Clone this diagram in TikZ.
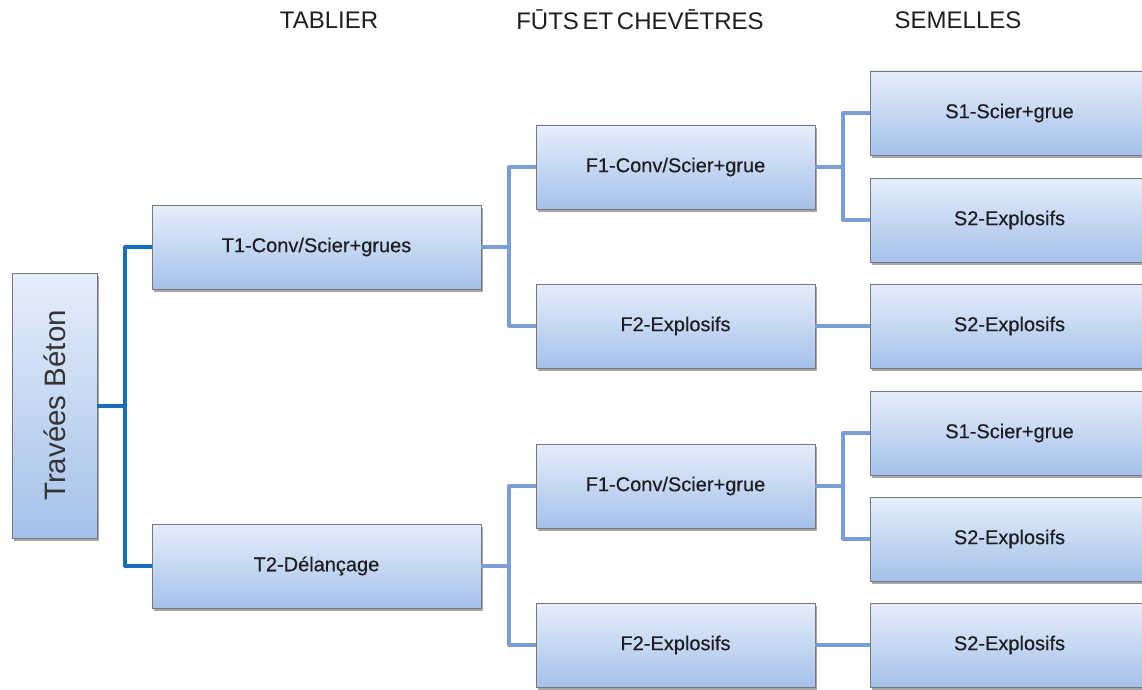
\documentclass[tikz,border=0pt]{standalone}
\usepackage{fontspec}
\setmainfont{Liberation Sans}
\newfontfamily\headfont[WordSpace=0.55]{Liberation Sans}
\newfontfamily\boxfont[FakeBold=0.4]{Liberation Sans}
\usetikzlibrary{shadows}
\definecolor{boxtop}{RGB}{230,238,250}
\definecolor{boxbot}{RGB}{165,193,234}
\definecolor{boxline}{RGB}{118,120,128}
\definecolor{linkdark}{RGB}{22,110,190}
\definecolor{linklight}{RGB}{122,158,214}
\definecolor{inkdark}{RGB}{30,30,34}
\begin{document}
\begin{tikzpicture}[x=1pt,y=-1pt,
  box/.style={draw=boxline, line width=0.8pt, top color=boxtop, bottom color=boxbot,
    minimum height=84pt, inner sep=0pt, text=inkdark,
    font=\boxfont\fontsize{20}{22}\selectfont,
    drop shadow={shadow xshift=2pt, shadow yshift=-2.5pt, opacity=0.35, fill=black}},
  tbox/.style={box, minimum width=329pt},
  fbox/.style={box, minimum width=279pt},
  sbox/.style={box, minimum width=279pt},
  heading/.style={font=\headfont\fontsize{24}{26}\selectfont, text=inkdark},
  darklink/.style={draw=linkdark, line width=4pt, line join=round},
  lightlink/.style={draw=linklight, line width=4pt, line join=round}]
\useasboundingbox (0,0) rectangle (1142,690);
\clip (0,0) rectangle (1142,690);

% column headings
\node[heading] (hT) at (329,20) {TABLIER};
\node[heading] (hF) at (640,20) {FŪTS ET CHEVĒTRES};
\node[heading] (hS) at (958,20) {SEMELLES};

% root
\node[box, minimum width=85pt, minimum height=265pt] (root) at (54.5,405.5) {};
\node[rotate=90, font=\fontsize{29.5}{32}\selectfont, text=inkdark!90] (rootlabel) at (root.center) {Travées Béton};

% deck
\node[tbox] (t1) at (316.5,247) {T1-Conv/Scier+grues};
\node[tbox] (t2) at (316.5,566) {T2-Délançage};

% shafts and caps
\node[fbox] (f1a) at (675.5,167) {F1-Conv/Scier+grue};
\node[fbox] (f2a) at (675.5,326) {F2-Explosifs};
\node[fbox] (f1b) at (675.5,486) {F1-Conv/Scier+grue};
\node[fbox] (f2b) at (675.5,645) {F2-Explosifs};

% footings
\node[sbox] (s1a) at (1009.5,113) {S1-Scier+grue};
\node[sbox] (s2a) at (1009.5,220) {S2-Explosifs};
\node[sbox] (s3a) at (1009.5,326) {S2-Explosifs};
\node[sbox] (s1b) at (1009.5,433) {S1-Scier+grue};
\node[sbox] (s2b) at (1009.5,539) {S2-Explosifs};
\node[sbox] (s3b) at (1009.5,645) {S2-Explosifs};

% connectors
\draw[darklink] (root.east) -- ++(28,0) |- (t1.west);
\draw[darklink] (root.east) -- ++(28,0) |- (t2.west);

\draw[lightlink] (t1.east) -- ++(28,0) |- (f1a.west);
\draw[lightlink] (t1.east) -- ++(28,0) |- (f2a.west);
\draw[lightlink] (t2.east) -- ++(28,0) |- (f1b.west);
\draw[lightlink] (t2.east) -- ++(28,0) |- (f2b.west);

\draw[lightlink] (f1a.east) -- ++(28,0) |- (s1a.west);
\draw[lightlink] (f1a.east) -- ++(28,0) |- (s2a.west);
\draw[lightlink] (f2a.east) -- (s3a.west);
\draw[lightlink] (f1b.east) -- ++(28,0) |- (s1b.west);
\draw[lightlink] (f1b.east) -- ++(28,0) |- (s2b.west);
\draw[lightlink] (f2b.east) -- (s3b.west);
\end{tikzpicture}
\end{document}
